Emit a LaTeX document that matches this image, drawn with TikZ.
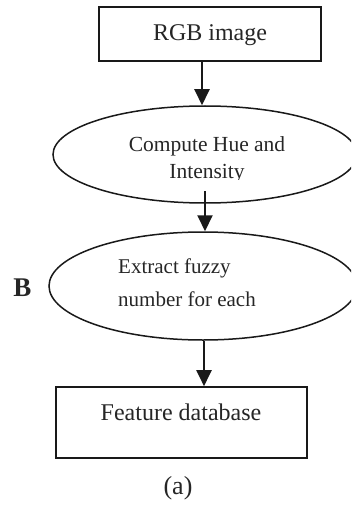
\documentclass[tikz,border=0pt]{standalone}
\usepackage{fontspec}
\setmainfont{Liberation Serif}
\usetikzlibrary{arrows.meta,shapes.geometric}
\begin{document}
\begin{tikzpicture}[x=1pt,y=-1pt,
  boxstyle/.style={draw=black!90,line width=1.6pt,rectangle,inner sep=0pt},
  ellstyle/.style={draw=black!90,line width=1.5pt,ellipse,inner sep=0pt},
  txt/.style={inner sep=0pt,anchor=base,text=black!85},
  arr/.style={draw=black!90,line width=2pt,-{Triangle[width=15pt,length=16pt]}}]
\useasboundingbox (0,0) rectangle (351,505);
\clip (0,0) rectangle (351,505);
\fill[white] (0,0) rectangle (351,505);
% shapes
\node[boxstyle,minimum width=222pt,minimum height=54pt] (rgb) at (210,34) {};
\node[ellstyle,minimum width=304pt,minimum height=97pt] (hue) at (205,154.5) {};
\node[ellstyle,minimum width=308pt,minimum height=108pt] (fuzzy) at (203,286) {};
\node[boxstyle,minimum width=251pt,minimum height=71pt] (db) at (181.5,422.5) {};
% texts
\node[txt,font=\fontsize{24}{28}\selectfont] (t1) at (210,41) {RGB image};
\node[txt,font=\fontsize{21.5}{26}\selectfont] (t2) at (207,152) {Compute Hue and};
\begin{scope}
\clip (0,0) rectangle (351,179.5);
\node[txt,font=\fontsize{21.5}{26}\selectfont] (t3) at (207,178) {Intensity};
\end{scope}
\node[txt,anchor=base west,font=\fontsize{21}{26}\selectfont] (t4) at (118,273) {Extract fuzzy};
\node[txt,anchor=base west,font=\fontsize{21}{26}\selectfont] (t5) at (118,306.5) {number for each};
\node[txt,font=\fontsize{24}{28}\selectfont] (t6) at (181,420) {Feature database};
\node[txt,font=\bfseries\fontsize{27}{30}\selectfont] (lb) at (22.5,296) {B};
\node[txt,font=\fontsize{26}{30}\selectfont] (la) at (178,494) {(a)};
% connectors
\coordinate (s2) at (205,191);
\draw[arr] (rgb.south -| 202,0) -- (hue.north -| 202,0);
\draw[arr] (s2) -- (fuzzy.north -| 205,0);
\draw[arr] (fuzzy.south -| 204,0) -- (db.north -| 204,0);
\end{tikzpicture}
\end{document}
